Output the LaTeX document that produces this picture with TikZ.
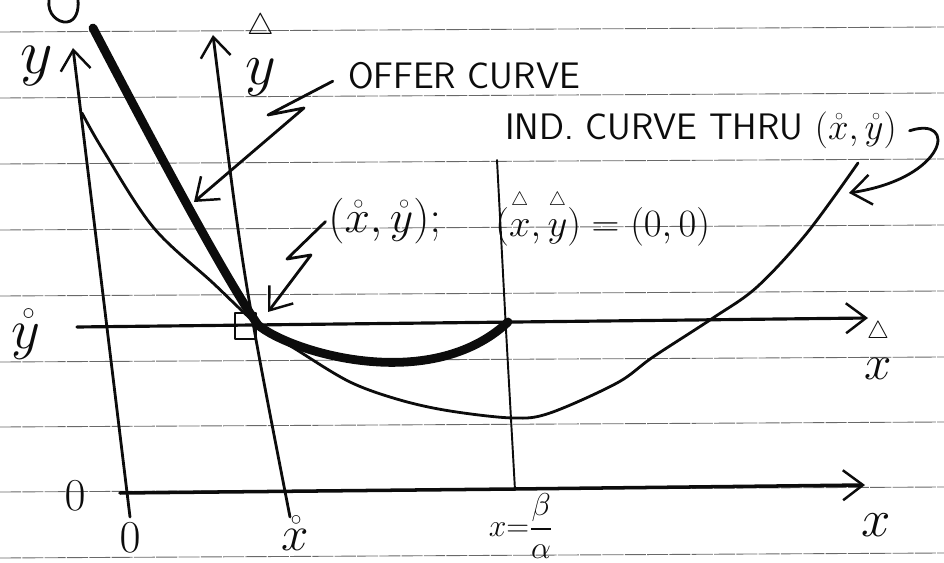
\documentclass[tikz,border=0pt]{standalone}
\definecolor{inkBlack}{RGB}{12,12,12}
\definecolor{ruleGray}{RGB}{105,105,105}
\usepackage{fix-cm}
\usepackage{amsmath,amssymb}
\usepackage{tikz}
\usetikzlibrary{arrows.meta}
\newcommand{\trihat}[1]{\overset{\scriptscriptstyle\triangle}{\vphantom{t}#1}}

\begin{document}
\begin{tikzpicture}[x=0.02cm,y=-0.02cm,
    ink/.style={draw=inkBlack,line width=1.6pt,line cap=round,line join=round},
    barb/.style={-{Straight Barb[length=4mm,width=6mm,line width=1.4pt]}},
    hand/.style={font=\fontsize{21}{25}\selectfont\sffamily,text=inkBlack,inner sep=0pt},
    sym/.style={text=inkBlack,inner sep=0pt}]
        \useasboundingbox (0,0) rectangle (944,563);
        % Ruled paper
        \foreach \ry in {30,96,162,228,294,360,425,490,556}
          \draw[ruleGray,line width=0.5pt,dash pattern=on 12pt off 0.7pt] (0,\ry+2) -- (944,\ry-3);
        % Stray loop at the top
        \draw[ink] (49,0) .. controls (47,14) and (58,23) .. (67,22) .. controls (76,21) and (79,10) .. (78,0);
        % Axes
        \coordinate (yfoot) at (130,517);
        \coordinate (ytip) at (73,48);
        \draw[ink,barb] (yfoot) -- (ytip);
        \coordinate (hfoot) at (290,517);
        \coordinate (htip) at (213,35);
        \draw[ink,barb] (hfoot) .. controls (243,276) .. (htip);
        \coordinate (xfoot) at (120,493);
        \coordinate (xtip) at (865,485);
        \draw[ink,line width=2pt,barb] (xfoot) -- (515,489) -- (xtip);
        \coordinate (hxfoot) at (77,327);
        \coordinate (hxtip) at (868,318);
        \draw[ink,line width=1.8pt,barb] (hxfoot) -- (hxtip);
        % x = beta/alpha
        \coordinate (vtop) at (497,160);
        \coordinate (vfoot) at (515,490);
        \draw[ink,line width=1.1pt] (vtop) -- (506,330) -- (vfoot);
        % Corner box at the endowment
        \draw[ink,line width=1.3pt] (235,313) rectangle (256,339);
        % Indifference curve
        \draw[ink] plot[smooth,tension=0.55] coordinates {(82,113) (103,150) (153,227) (213,283) (258,325)
          (297,350) (350,382) (400,400) (450,411) (513,418) (550,413) (617,383) (653,357) (713,318)
          (757,287) (807,233) (858,163)};
        % Offer curve
        \coordinate (endow) at (258,325);
        \draw[inkBlack,line width=5pt,line cap=round] (93,28) .. controls (175,185) and (230,285) .. (endow)
          .. controls (290,352) and (430,395) .. (508,322);
        % Labels
        \node[hand,anchor=base] (offer) at (464,89) {OFFER CURVE};
        \node[hand,anchor=base west] (indlab) at (505,140) {IND.\ CURVE THRU $(\mathring{x},\mathring{y})$};
        \node[sym,anchor=base west,font=\fontsize{26}{30}\selectfont] (ringlab) at (328,233) {$(\mathring{x},\mathring{y});$};
        \node[sym,anchor=base west,font=\fontsize{22}{26}\selectfont] (trilab) at (495,237) {$(\trihat{x},\trihat{y})=(0,0)$};
        \node[sym,font=\fontsize{36}{40}\selectfont] (ylab) at (37,66) {$y$};
        \node[sym,font=\fontsize{34}{38}\selectfont] (hylab) at (261,52) {$\trihat{y}$};
        \node[sym,font=\fontsize{32}{36}\selectfont] (rylab) at (26,334) {$\mathring{y}$};
        \node[sym,font=\fontsize{26}{30}\selectfont] (zleft) at (75,496) {$0$};
        \node[sym,font=\fontsize{26}{30}\selectfont] (zfoot) at (130,538) {$0$};
        \node[sym,font=\fontsize{28}{32}\selectfont] (rxlab) at (295,533) {$\mathring{x}$};
        \node[sym,font=\fontsize{18}{22}\selectfont] (ratio) at (521,526) {$x{=}\dfrac{\beta}{\alpha}$};
        \node[sym,font=\fontsize{30}{34}\selectfont] (xlab) at (876,525) {$x$};
        \node[sym,font=\fontsize{28}{32}\selectfont] (hxlab) at (878,348) {$\trihat{x}$};
        % Pointers
        \coordinate (offtip) at (194,202);
        \draw[ink,barb] ([xshift=-0.3cm,yshift=-0.1cm]offer.west) -- (268,115) -- (304,108) -- (offtip);
        \coordinate (endtip) at (268,312);
        \draw[ink,barb] ([xshift=-0.05cm]ringlab.west) -- (287,259) -- (311,255) -- (endtip);
        \coordinate (indtip) at (849,193);
        \draw[ink,barb] ([xshift=0.25cm]indlab.east) .. controls (958,115) and (948,178) .. (indtip);
      \end{tikzpicture}
\end{document}
